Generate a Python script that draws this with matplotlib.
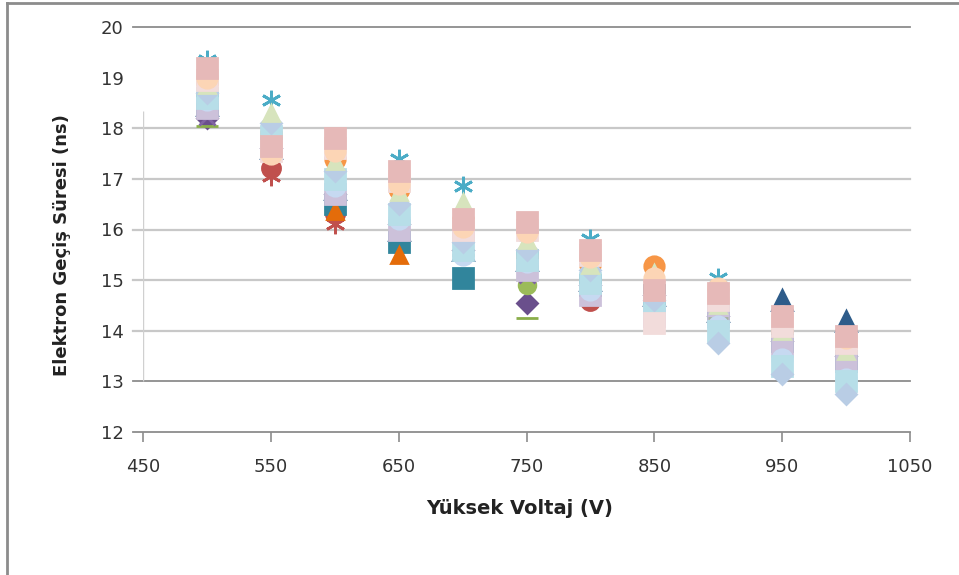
import matplotlib
matplotlib.use("Agg")
from matplotlib import pyplot as plt
from matplotlib.lines import Line2D

# high voltage (V) on x, electron transit time (ns) on y
voltage = [500, 550, 600, 650, 700, 750, 800, 850, 900, 950, 1000]

# darker series (drawn first, they stick out at the ends of each column)
blue_tri = [18.45, 17.6, 16.8, 16.0, 15.6, 15.4, 15.0, 14.7, 14.4, 14.6, 14.2]
purple_dia = [18.2, 17.6, 16.7, 16.1, 15.6, 14.55, 14.9, 14.7, 14.3, 13.8, 13.5]
green_dash = [18.05, 17.6, 16.7, 16.0, 15.5, 14.25, 14.9, 14.7, 14.3, 13.8, 13.5]
green_oval = [18.4, 17.6, 16.8, 16.0, 15.6, 14.9, 14.9, 14.7, 14.3, 13.9, 13.5]
purple_x = [18.22, 17.6, 16.7, 16.0, 15.6, 15.1, 14.9, 14.7, 14.3, 13.8, 13.5]
red_star = [18.6, 17.05, 16.1, 16.0, 15.6, 15.4, 14.9, 14.7, 14.3, 13.8, 13.4]
red_circle = [18.6, 17.22, 16.3, 16.0, 15.6, 15.4, 14.58, 14.7, 14.3, 13.8, 13.4]
teal_sq = [18.5, 17.6, 16.5, 15.75, 15.05, 15.4, 14.9, 14.7, 14.3, 13.8, 13.4]
orange_tri = [18.5, 17.6, 16.36, 15.5, 15.6, 15.4, 14.9, 14.7, 14.3, 13.8, 13.4]
aqua_star = [19.35, 18.55, 17.5, 17.4, 16.85, 15.9, 15.82, 14.9, 15.05, 14.2, 13.8]
orange_circle = [18.9, 17.9, 17.4, 16.8, 16.2, 15.45, 15.3, 15.28, 14.6, 14.0, 13.7]

# pale series (drawn last, they make up the body of each column)
pink_sq = [19.2, 17.65, 17.8, 17.15, 16.2, 16.15, 15.6, 14.8, 14.75, 14.3, 13.9]
peach_circle = [19.0, 17.5, 17.55, 16.9, 16.05, 15.95, 15.45, 15.05, 14.85, 14.3, 13.85]
lgreen_tri = [18.85, 18.3, 17.35, 16.75, 16.55, 15.8, 15.3, 15.15, 14.5, 14.0, 13.6]
lblue_dia = [18.7, 18.1, 17.15, 16.5, 15.75, 15.6, 15.2, 14.6, 13.75, 13.15, 12.75]
laqua_sq = [18.6, 17.85, 17.0, 16.3, 15.6, 15.4, 14.95, 14.5, 14.0, 13.3, 13.0]
lavender_x = [18.4, 17.6, 16.7, 16.0, 15.95, 15.2, 14.7, 14.3, 14.3, 13.7, 13.4]
lblue_circle = [18.55, 17.7, 16.85, 16.2, 15.5, 15.35, 14.8, 14.45, 14.1, 13.45, 13.05]
grey_dash = [18.5, 17.75, 16.9, 16.1, 15.7, 15.5, 14.9, 14.4, 14.25, 13.9, 13.6]
lrose_sq = [18.95, 17.55, 17.6, 16.95, 16.0, 16.0, 15.5, 14.15, 14.6, 14.1, 13.75]

star = (6, 2, 0)

series = [
    (blue_tri, "#2E5C8A", "^", 14),
    (purple_dia, "#6A4F8C", "D", 10),
    (green_dash, "#8AAE4A", "_", 16),
    (green_oval, "#9BBB59", "o", 12),
    (purple_x, "#8064A2", "x", 12),
    (red_star, "#C0504D", star, 14),
    (red_circle, "#C0504D", "o", 13),
    (teal_sq, "#31859C", "s", 14),
    (orange_tri, "#E46C0A", "^", 11),
    (aqua_star, "#4BACC6", star, 14),
    (orange_circle, "#F79646", "o", 14),
    (lavender_x, "#CCC1DA", "s", 14),
    (grey_dash, "#A6B3A0", "_", 15),
    (lblue_circle, "#C6D9F1", "o", 14),
    (laqua_sq, "#B7DEE8", "s", 14),
    (lblue_dia, "#B9CDE5", "D", 10),
    (lgreen_tri, "#D7E4BD", "^", 12),
    (lrose_sq, "#F2DCDB", "s", 14),
    (peach_circle, "#FCD5B5", "o", 14),
    (pink_sq, "#E6B9B8", "s", 14),
]

fig = plt.figure(figsize=(9.59, 5.75), dpi=100)
ax = fig.add_axes([143 / 959, 1 - 432 / 575, 767 / 959, 405 / 575])

for values, color, marker, size in series:
    ax.plot(voltage, values, linestyle="none", marker=marker, markersize=size,
            color=color, markeredgecolor=color, markeredgewidth=2)

ax.set_xlim(450, 1050)
ax.set_ylim(12, 20)

# gridlines (no line at 19 in the original)
for y in [14, 15, 16, 17, 18]:
    ax.plot([-0.013, 1.0], [y, y], color="#C8C8C8", lw=1.6,
            transform=ax.get_yaxis_transform(), clip_on=False, zorder=0)
for y in [12, 13, 20]:
    ax.plot([-0.013, 1.0], [y, y], color="#8C8C8C", lw=1.3,
            transform=ax.get_yaxis_transform(), clip_on=False, zorder=0)
ax.vlines(450, 13, 18.35, color="#D0D0D0", lw=1, zorder=0)

for s in ax.spines.values():
    s.set_visible(False)

ax.set_xticks([450, 550, 650, 750, 850, 950, 1050])
ax.set_yticks([12, 13, 14, 15, 16, 17, 18, 19, 20])
ax.tick_params(axis="y", length=0, pad=14, labelsize=13, labelcolor="#333333")
ax.tick_params(axis="x", length=7, width=1.2, color="#8C8C8C", pad=12,
               labelsize=13, labelcolor="#333333")
for t in ax.xaxis.get_major_ticks():
    if t.get_loc() in (450, 550, 1050):
        t.tick1line.set_visible(False)

fig.text(62 / 959, 1 - 245 / 575, "Elektron Geçiş Süresi (ns)", rotation=90,
         ha="center", va="center", fontsize=13, fontweight="bold", color="#222222")
fig.text(520 / 959, 1 - 508 / 575, "Yüksek Voltaj (V)", ha="center", va="center",
         fontsize=14, fontweight="bold", color="#222222")

# outer frame of the pasted picture (top and left edges only)
fig.add_artist(Line2D([7 / 959, 1], [1 - 3 / 575, 1 - 3 / 575], color="#8C8C8C", lw=2))
fig.add_artist(Line2D([7 / 959, 7 / 959], [0, 1 - 3 / 575], color="#8C8C8C", lw=2))

fig.savefig("out.png", dpi=100)
